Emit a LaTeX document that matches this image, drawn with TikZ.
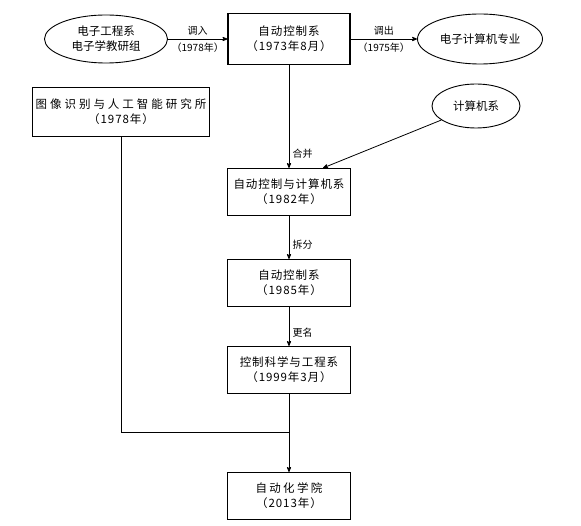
\documentclass[tikz,border=0pt]{standalone}
\usepackage{fontspec}
\newfontfamily\cjk{Noto Sans CJK SC}
\usetikzlibrary{shapes.geometric,arrows,positioning}

\begin{document}
\begin{tikzpicture}[x=1pt,y=-1pt,->,>=stealth',line width=0.8pt,
  every node/.style={font=\cjk\fontsize{11.5}{15}\selectfont},
  dept/.style={draw,rectangle,line width=1.1pt,minimum width=123pt,minimum height=47pt,align=center,
    font=\cjk\fontsize{11.5}{15}\selectfont\addfontfeature{LetterSpace=8}},
  unit/.style={draw,ellipse,line width=0.9pt,align=center,inner sep=1pt},
  lbl/.style={font=\cjk\fontsize{10}{12}\selectfont}]
  \useasboundingbox (0,0) rectangle (581,526);
  \node[unit,minimum width=123pt,minimum height=48pt] (dzgc) at (106,39) {电子工程系\\电子学教研组};
  \node[dept,minimum width=122pt,minimum height=51pt] (zdk73) at (289,39) {自动控制系\\（1973年8月）};
  \node[unit,minimum width=125pt,minimum height=50pt] (dzjsj) at (480,39) {电子计算机专业};
  \node[dept,minimum width=168pt,minimum height=49pt] (txsb) at (121,112)
    {{\addfontfeature{LetterSpace=26}图像识别与人工智能研究所}\\（1978年）};
  \node[unit,minimum width=88pt,minimum height=44pt] (jsjx) at (476,106) {计算机系};
  \node[dept] (zdjs) at (289,192) {自动控制与计算机系\\（1982年）};
  \node[dept] (zdk85) at (289,283) {自动控制系\\（1985年）};
  \node[dept] (kzkx) at (289,370) {控制科学与工程系\\（1999年3月）};
  \node[dept] (zdhxy) at (289,496) {{\addfontfeature{LetterSpace=20}自动化学院}\\（2013年）};
  \coordinate (join) at (289,432);
  \draw (dzgc) -- node[lbl,above]{调入} node[lbl,below]{（1978年）} (zdk73);
  \draw (zdk73) -- node[lbl,above]{调出} node[lbl,below]{（1975年）} (dzjsj);
  \draw (zdk73) -- node[lbl,right,pos=0.86]{合并} (zdjs);
  \draw (jsjx) -- ([xshift=-28pt]zdjs.north east);
  \draw (zdjs) -- node[lbl,right,pos=0.68]{拆分} (zdk85);
  \draw (zdk85) -- node[lbl,right,pos=0.66]{更名} (kzkx);
  \draw[-] (kzkx) -- (join);
  \draw (txsb.south) |- (join) -- (zdhxy);
\end{tikzpicture}
\end{document}
